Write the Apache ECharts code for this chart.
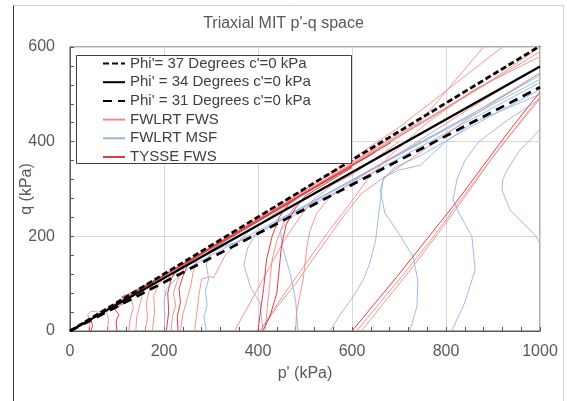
<!DOCTYPE html>
<html><head><meta charset="utf-8">
<script src="https://cdn.jsdelivr.net/npm/echarts@6/dist/echarts.min.js"></script>
<style>html,body{margin:0;padding:0;background:#fff}#c{width:567px;height:401px}</style>
</head><body><div id="c"></div>
<script>
// Axis setup
const xRange = [0, 1000];
const yRange = [0, 600];
const xStep = 200;
const yStep = 200;

// Failure envelopes (p', q) end points
const phi37 = [[0,0],[1000,602]];
const phi34 = [[0,0],[1000,559]];
const phi31 = [[0,0],[1000,515]];

// TYSSE FWS stress paths
const tysseFws = [
  [[45,0],[48,12],[44,24],[52,32],[60,30],[66,38],[80,47],[150,88],[300,176],[450,263],[600,350],[683,398]],
  [[100,0],[98,20],[104,35],[95,45],[108,55],[120,62],[110,72],[125,78],[200,118],[350,205],[500,292],[640,372]],
  [[205,0],[210,40],[208,80],[215,110],[225,128],[300,175],[450,262],[600,347]],
  [[230,0],[228,30],[235,60],[232,90],[240,115],[250,138],[330,190],[480,278]],
  [[400,0],[405,40],[412,90],[418,150],[430,200],[445,240],[470,275],[520,303],[650,378]],
  [[410,0],[425,30],[440,80],[445,130],[450,180],[460,225],[480,260],[500,285],[600,345]],
  [[600,0],[650,60],[700,120],[760,195],[820,270],[880,350],[940,430],[1000,505]]
];

// FWLRT FWS stress paths
const fwlrtFws = [
  [[40,0],[42,20],[38,35],[45,42],[60,40],[75,45],[100,60],[200,118],[400,236],[600,352],[800,470],[1000,590]],
  [[80,0],[82,25],[78,40],[85,50],[100,60],[300,178],[500,295],[700,413],[900,532],[1000,600]],
  [[125,0],[128,25],[135,50],[130,70],[140,82],[200,116],[400,232],[600,350],[800,470],[880,520]],
  [[140,0],[142,30],[150,60],[155,85],[165,95],[250,145],[450,265],[700,430],[920,600]],
  [[160,0],[165,30],[162,60],[170,90],[180,105],[300,178],[500,300],[745,442],[880,600]],
  [[175,0],[180,40],[178,75],[190,100],[205,118],[215,110],[225,122],[300,175],[420,245]],
  [[215,0],[218,30],[225,55],[220,80],[228,105],[240,130],[270,158]],
  [[235,0],[240,35],[250,70],[258,100],[262,125],[270,150],[320,185],[500,292],[650,385]],
  [[265,0],[270,40],[275,80],[280,110],[300,115],[305,112],[312,125],[330,160],[380,210],[560,330]],
  [[350,0],[375,45],[400,90],[430,145],[455,190],[485,235],[515,275],[560,310],[600,330],[700,400]],
  [[404,0],[450,70],[500,140],[550,210],[600,275],[632,319],[680,370],[760,440],[860,510],[1000,580]],
  [[404,0],[440,50],[480,100],[530,170],[580,240],[620,290],[660,319],[720,360],[850,450],[1000,545]],
  [[415,0],[420,50],[425,100],[430,150],[440,190],[455,230],[480,265]],
  [[480,0],[482,40],[490,80],[496,108],[504,178],[511,213],[525,249],[553,283],[600,315],[700,375],[850,470],[1000,560]],
  [[610,0],[660,60],[710,120],[770,195],[830,275],[890,355],[950,430],[1000,490]],
  [[620,0],[670,62],[725,130],[790,215],[845,290],[905,375],[960,445],[1000,495]]
];

// FWLRT MSF stress paths
const fwlrtMsf = [
  [[200,0],[202,30],[200,60],[205,88],[215,100],[235,118],[260,138],[300,160],[400,212],[550,292],[700,372],[850,452],[1000,532]],
  [[290,0],[285,30],[292,55],[288,85],[295,110],[290,140],[298,165],[330,180],[362,190],[400,205],[500,262],[650,345],[800,428],[1000,540]],
  [[411,0],[404,60],[385,90],[370,140],[378,175],[395,205],[430,225],[520,275],[700,375],[850,455],[1000,545]],
  [[485,0],[480,65],[468,123],[452,178],[448,213],[470,240],[540,280],[700,365],[850,445],[1000,525]],
  [[553,0],[575,35],[602,72],[625,110],[638,144],[650,190],[656,240],[666,319],[690,345],[745,370],[850,430],[1000,510]],
  [[723,0],[738,51],[740,108],[730,157],[695,213],[670,249],[660,298],[668,325],[700,340],[745,350],[800,400],[857,440],[1000,500]],
  [[812,0],[840,60],[862,129],[855,200],[830,245],[815,277],[823,319],[840,360],[870,400],[930,445],[1000,490]],
  [[1000,186],[989,203],[964,228],[936,256],[919,298],[921,320],[930,340],[957,382],[1000,425]]
];

const NAME37 = "Phi'= 37 Degrees c'=0 kPa";
const NAME34 = "Phi' = 34 Degrees c'=0 kPa";
const NAME31 = "Phi' = 31 Degrees c'=0 kPa";

function paths(name, list, color, width, z) {
  return list.map(d => ({
    name, type: 'line', data: d, symbol: 'none', silent: true, z,
    lineStyle: { color, width }, itemStyle: { color }
  }));
}

const series = [
  ...paths('FWLRT MSF', fwlrtMsf, '#94B3E6', 0.9, 2),
  ...paths('FWLRT FWS', fwlrtFws, '#EF8A8A', 0.9, 2),
  ...paths('TYSSE FWS', tysseFws, '#DF3F3F', 1, 2),
  { name: NAME31, type: 'line', data: phi31, symbol: 'none', silent: true, z: 3,
    lineStyle: { color: '#000', width: 2.75, type: [9, 6] }, itemStyle: { color: '#000' } },
  { name: NAME34, type: 'line', data: phi34, symbol: 'none', silent: true, z: 3,
    lineStyle: { color: '#000', width: 2.25 }, itemStyle: { color: '#000' } },
  { name: NAME37, type: 'line', data: phi37, symbol: 'none', silent: true, z: 3,
    lineStyle: { color: '#000', width: 2.75, type: [6, 3] }, itemStyle: { color: '#000' } }
];

const chart = echarts.init(document.getElementById('c'));
const axisText = { color: '#595959', fontSize: 16, fontFamily: 'Liberation Sans, Arial, sans-serif' };
chart.setOption({
  animation: false,
  backgroundColor: '#fff',
  title: { text: "Triaxial MIT p'-q space", left: 'center', top: 11,
    textStyle: { color: '#595959', fontSize: 16, fontWeight: 'normal', fontFamily: 'Liberation Sans, Arial, sans-serif' } },
  grid: { left: 70, right: 27, top: 47, bottom: 70, show: true, borderColor: '#595959', borderWidth: 1,
    containLabel: false, outerBoundsMode: 'none' },
  legend: {
    data: [NAME37, NAME34, NAME31, 'FWLRT FWS', 'FWLRT MSF', 'TYSSE FWS'],
    orient: 'vertical', left: 102, top: 56, padding: 0, z: 6,
    itemWidth: 22, itemHeight: 14, itemGap: 3.7,
    itemStyle: { opacity: 0 },
    textStyle: { color: '#404040', fontSize: 15, fontFamily: 'Liberation Sans, Arial, sans-serif' },
    selectedMode: false
  },
  xAxis: {
    type: 'value', min: xRange[0], max: xRange[1], interval: xStep,
    name: "p' (kPa)", nameLocation: 'middle', nameGap: 35, nameMoveOverlap: false, nameTextStyle: axisText,
    axisLine: { show: true, lineStyle: { color: '#595959' } },
    axisTick: { show: true, inside: true, length: 4, lineStyle: { color: '#595959' } },
    minorTick: { show: true, splitNumber: 5, length: 4, lineStyle: { color: '#595959' } },
    axisLabel: { ...axisText, margin: 13, formatter: v => String(v) },
    splitLine: { show: true, lineStyle: { color: '#D9D9D9' } }
  },
  yAxis: {
    type: 'value', min: yRange[0], max: yRange[1], interval: yStep,
    name: 'q (kPa)', nameLocation: 'middle', nameGap: 35, nameMoveOverlap: false, nameTextStyle: axisText,
    axisLine: { show: true, lineStyle: { color: '#595959' } },
    axisTick: { show: true, inside: true, length: 4, lineStyle: { color: '#595959' } },
    minorTick: { show: true, splitNumber: 5, length: 4, lineStyle: { color: '#595959' } },
    axisLabel: { ...axisText, margin: 15, formatter: v => String(v) },
    splitLine: { show: true, lineStyle: { color: '#D9D9D9' } }
  },
  graphic: [
    { type: 'rect', silent: true, z: -1, shape: { x: 13.5, y: 5.5, width: 550, height: 410 },
      style: { fill: 'none', stroke: '#D0D0D0', lineWidth: 1 } },
    { type: 'line', silent: true, z: 0, shape: { x1: 13.5, y1: 5.5, x2: 13.5, y2: 401 },
      style: { stroke: '#404040', lineWidth: 1 } },
    { type: 'rect', silent: true, z: 5, shape: { x: 76.5, y: 55.5, width: 275, height: 108 },
      style: { fill: '#fff', stroke: '#404040', lineWidth: 1 } }
  ],
  series
});
</script></body></html>
